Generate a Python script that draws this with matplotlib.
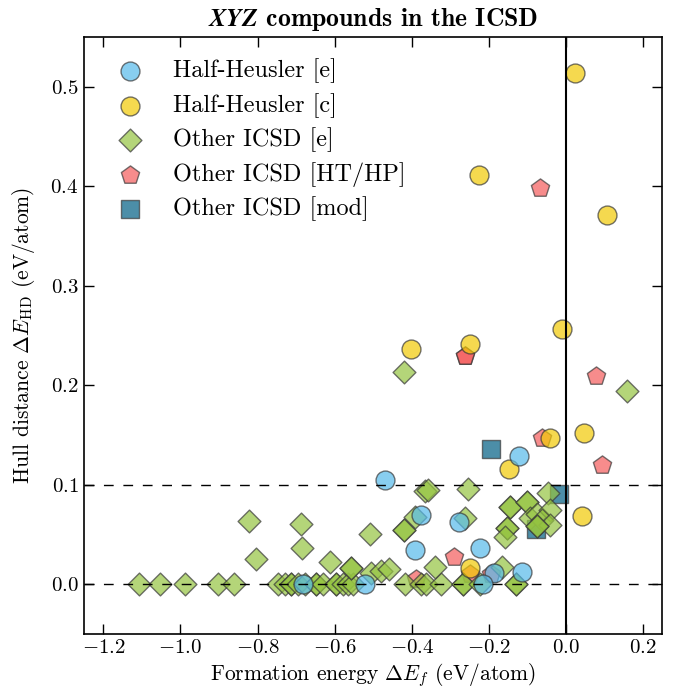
import matplotlib
matplotlib.use('Agg')
import matplotlib.pyplot as plt

plt.rcParams['font.family'] = 'serif'
plt.rcParams['font.serif'] = ['cmr10']
plt.rcParams['mathtext.fontset'] = 'cm'
plt.rcParams['axes.formatter.use_mathtext'] = True

# Half-Heusler, experimental
hh_e_x = [-0.470, -0.377, -0.277, -0.392, -0.222, -0.121, -0.114, -0.186, -0.215, -0.520, -0.683]
hh_e_y = [0.105, 0.069, 0.062, 0.034, 0.036, 0.129, 0.012, 0.011, 0.000, 0.000, 0.000]

# Half-Heusler, computed
hh_c_x = [0.023, 0.107, -0.226, -0.401, -0.250, -0.010, -0.042, 0.047, 0.043, -0.148, -0.249]
hh_c_y = [0.514, 0.371, 0.411, 0.236, 0.241, 0.256, 0.147, 0.152, 0.068, 0.116, 0.016]

# Other ICSD, experimental
oth_e_x = [-1.108, -1.053, -0.987, -0.903, -0.860, -0.747, -0.730, -0.712, -0.712, -0.695,
           -0.678, -0.648, -0.648, -0.630, -0.596, -0.596, -0.579, -0.566, -0.553,
           -0.418, -0.375, -0.362, -0.323, -0.267, -0.267, -0.223, -0.130, -0.130,
           -0.821, -0.686, -0.685, -0.805, -0.613, -0.558, -0.558, -0.509,
           -0.505, -0.480, -0.460, -0.420, 0.158,
           -0.366, -0.357, -0.254, -0.046, -0.145, -0.145, -0.102, -0.102,
           -0.392, -0.262, -0.421, -0.421, -0.152, -0.152, -0.158,
           -0.094, -0.076, -0.042, -0.063, -0.042, -0.076, -0.076,
           -0.340, -0.167]
oth_e_y = [0.000, 0.000, 0.000, 0.000, 0.000, 0.000, 0.000, 0.000, 0.000, 0.000,
           0.000, 0.000, 0.000, 0.000, 0.000, 0.000, 0.000, 0.000, 0.000,
           0.000, 0.000, 0.000, 0.000, 0.000, 0.000, 0.000, 0.000, 0.000,
           0.063, 0.060, 0.036, 0.025, 0.022, 0.016, 0.016, 0.050,
           0.011, 0.013, 0.015, 0.213, 0.194,
           0.094, 0.095, 0.096, 0.092, 0.077, 0.077, 0.083, 0.083,
           0.067, 0.066, 0.054, 0.054, 0.056, 0.056, 0.047,
           0.066, 0.070, 0.074, 0.064, 0.059, 0.058, 0.058,
           0.017, 0.017]

# Other ICSD, high temperature / high pressure
oth_hthp_x = [-0.068, -0.262, -0.262, 0.078, -0.063, 0.095, -0.291, -0.388, -0.193, -0.250]
oth_hthp_y = [0.398, 0.229, 0.229, 0.209, 0.147, 0.120, 0.027, 0.005, 0.010, 0.010]

# Other ICSD, modified
oth_mod_x = [-0.193, -0.018, -0.078]
oth_mod_y = [0.136, 0.091, 0.055]

fig = plt.figure(figsize=(6.73, 6.95), dpi=100)
ax = fig.add_axes([0.125, 0.088, 0.859, 0.859])

kw = dict(alpha=0.7, edgecolors='#3a3a3a', linewidths=1.0, zorder=2)
h_mod = ax.scatter(oth_mod_x, oth_mod_y, marker='s', s=170, color='#005F83', label='Other ICSD [mod]', **kw)
h_hthp = ax.scatter(oth_hthp_x, oth_hthp_y, marker='p', s=190, color='#F55B5B', label='Other ICSD [HT/HP]', **kw)
h_oe = ax.scatter(oth_e_x, oth_e_y, marker='D', s=135, color='#95C441', label='Other ICSD [e]', **kw)
h_hc = ax.scatter(hh_c_x, hh_c_y, marker='o', s=185, color='#F1CA05', label='Half-Heusler [c]', **kw)
h_he = ax.scatter(hh_e_x, hh_e_y, marker='o', s=185, color='#56BAEA', label='Half-Heusler [e]', **kw)

ax.axhline(0.0, color='k', ls='--', lw=1, dashes=(7, 7), zorder=3)
ax.axhline(0.1, color='k', ls='--', lw=1, dashes=(7, 7), zorder=3)
ax.axvline(0.0, color='k', lw=1.5, zorder=3)

ax.set_xlim(-1.25, 0.25)
ax.set_ylim(-0.05, 0.55)
ax.set_xticks([-1.2, -1.0, -0.8, -0.6, -0.4, -0.2, 0.0, 0.2])
ax.set_yticks([0.0, 0.1, 0.2, 0.3, 0.4, 0.5])
ax.tick_params(direction='in', top=True, right=True, length=7, width=1, labelsize=15, pad=4)
for sp in ax.spines.values():
    sp.set_linewidth(1.2)

ax.set_xlabel(r'Formation energy $\Delta E_f$ (eV/atom)', fontsize=15.5, labelpad=3)
ax.set_ylabel(r'Hull distance $\Delta E_{\rm HD}$ (eV/atom)', fontsize=15.5, labelpad=10)
ax.set_title(r'$\boldsymbol{XYZ}$ compounds in the ICSD', fontfamily='cmb10', fontsize=18.5, pad=8)

ax.legend(handles=[h_he, h_hc, h_oe, h_hthp, h_mod], loc='upper left', frameon=False,
          scatterpoints=1, fontsize=17.5, labelspacing=0.4, handletextpad=0.75,
          borderaxespad=0.6, borderpad=0.3)

fig.savefig('out.png', dpi=100)
